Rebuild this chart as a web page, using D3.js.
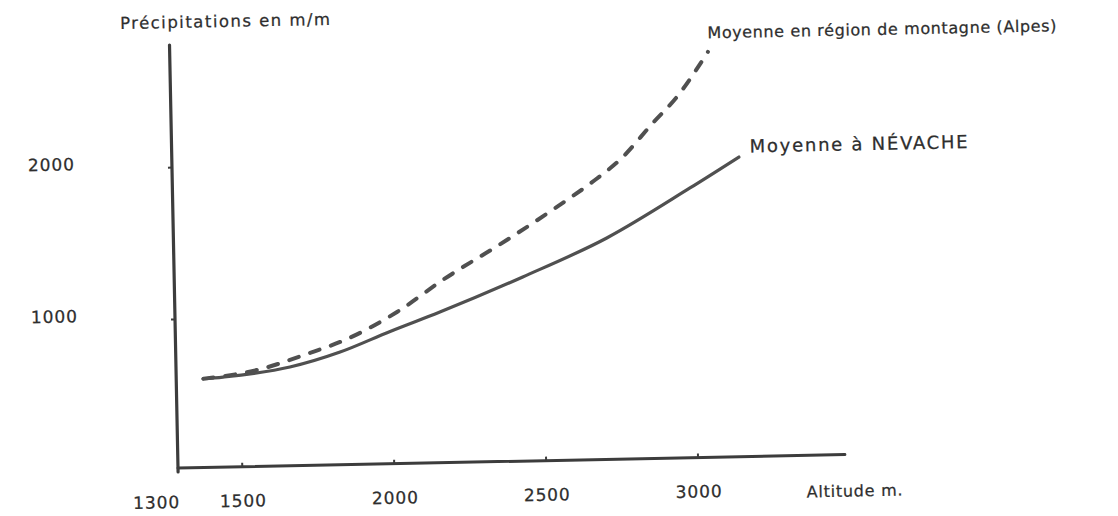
<!DOCTYPE html>
<html>
<head>
<meta charset="utf-8">
<script src="https://cdn.jsdelivr.net/npm/d3@7"></script>
<style>
  html, body { margin: 0; padding: 0; background: #fff; }
  svg { display: block; }
  text { font-family: "DejaVu Sans", sans-serif; fill: #2e2e2e; stroke: #2e2e2e; stroke-width: 0.25px; }
</style>
</head>
<body>
<svg id="chart" width="1118" height="516"></svg>
<script>
// ---- data ----
const xTicks = [1300, 1500, 2000, 2500, 3000];
const yTicks = [1000, 2000];
const altitudeNevache = [1378, 1444, 1665, 1831, 1997, 2162, 2437, 2716, 2993, 3156];
const precipNevache   = [602, 612, 669, 761, 890, 1011, 1231, 1476, 1794, 1991];
const altitudeAlpes   = [1380, 1557, 1722, 1855, 2021, 2174, 2387, 2554, 2681, 2764, 2875, 2956, 3061];
const precipAlpes     = [604, 654, 753, 846, 1017, 1222, 1476, 1687, 1859, 1988, 2226, 2395, 2687];
const labelNevache = "Moyenne à NÉVACHE";
const labelAlpes = "Moyenne en région de montagne (Alpes)";
const yTitle = "Précipitations en m/m";
const xTitle = "Altitude m.";

// ---- layout ----
const svg = d3.select("#chart");
const g = svg.append("g").attr("transform", "translate(178,468) rotate(-1.15)");

const x = d3.scaleLinear().domain([1300, 3485]).range([3, 667]);
const y = d3.scaleLinear().domain([0, 2000]).range([3, -301]);

const ink = "#3c3c3c";
const curveInk = "#505050";

// axes lines
g.append("line").attr("x1", 0).attr("y1", 0).attr("x2", x(3485)).attr("y2", 0)
  .attr("stroke", ink).attr("stroke-width", 3).attr("stroke-linecap", "round");
g.append("line").attr("x1", 0).attr("y1", 4).attr("x2", 0).attr("y2", -423)
  .attr("stroke", ink).attr("stroke-width", 3.2).attr("stroke-linecap", "round");

// x axis ticks & labels
const xAxis = d3.axisBottom(x).tickValues(xTicks).tickSizeInner(-4).tickSizeOuter(0)
  .tickPadding(28).tickFormat(d3.format("d"));
const gx = g.append("g").call(xAxis);
gx.select(".domain").remove();
gx.selectAll(".tick line").attr("stroke", ink).attr("stroke-width", 2)
  .attr("display", d => d === 1300 ? "none" : null);
gx.selectAll(".tick text")
  .attr("font-size", 17).attr("font-family", "DejaVu Sans, sans-serif").attr("fill", "#2e2e2e")
  .attr("textLength", 46).attr("lengthAdjust", "spacing")
  .attr("text-anchor", d => d === 1300 ? "end" : "middle")
  .attr("x", d => d === 1300 ? -3 : 0);

// y axis ticks & labels
const yAxis = d3.axisLeft(y).tickValues(yTicks).tickSizeInner(4).tickSizeOuter(0)
  .tickPadding(94).tickFormat(d3.format("d"));
const gy = g.append("g").call(yAxis);
gy.select(".domain").remove();
gy.selectAll(".tick line").attr("stroke", ink).attr("stroke-width", 2);
gy.selectAll(".tick text")
  .attr("font-size", 17).attr("font-family", "DejaVu Sans, sans-serif").attr("fill", "#2e2e2e")
  .attr("textLength", 46).attr("lengthAdjust", "spacing")
  .attr("dy", "0.05em");

// curves
const line = d3.line().x(d => x(d[0])).y(d => y(d[1])).curve(d3.curveMonotoneX);
const nev = altitudeNevache.map((a, i) => [a, precipNevache[i]]);
const alp = altitudeAlpes.map((a, i) => [a, precipAlpes[i]]);

g.append("path").datum(alp).attr("d", line)
  .attr("fill", "none").attr("stroke", curveInk).attr("stroke-width", 4)
  .attr("stroke-linecap", "round").attr("stroke-dasharray", "10,12");
g.append("path").datum(nev).attr("d", line)
  .attr("fill", "none").attr("stroke", curveInk).attr("stroke-width", 3.2)
  .attr("stroke-linecap", "round");

// text labels
g.append("text").attr("x", -49).attr("y", -440).attr("font-size", 16.5)
  .attr("textLength", 210).attr("lengthAdjust", "spacing").text(yTitle);
g.append("text").attr("x", 538).attr("y", -419).attr("font-size", 16)
  .attr("textLength", 349).attr("lengthAdjust", "spacing").text(labelAlpes);
g.append("text").attr("x", 578).attr("y", -304).attr("font-size", 18)
  .attr("textLength", 218).attr("lengthAdjust", "spacing").text(labelNevache);
g.append("text").attr("x", 628).attr("y", 42).attr("font-size", 16)
  .attr("textLength", 96).attr("lengthAdjust", "spacing").text(xTitle);
</script>
</body>
</html>
